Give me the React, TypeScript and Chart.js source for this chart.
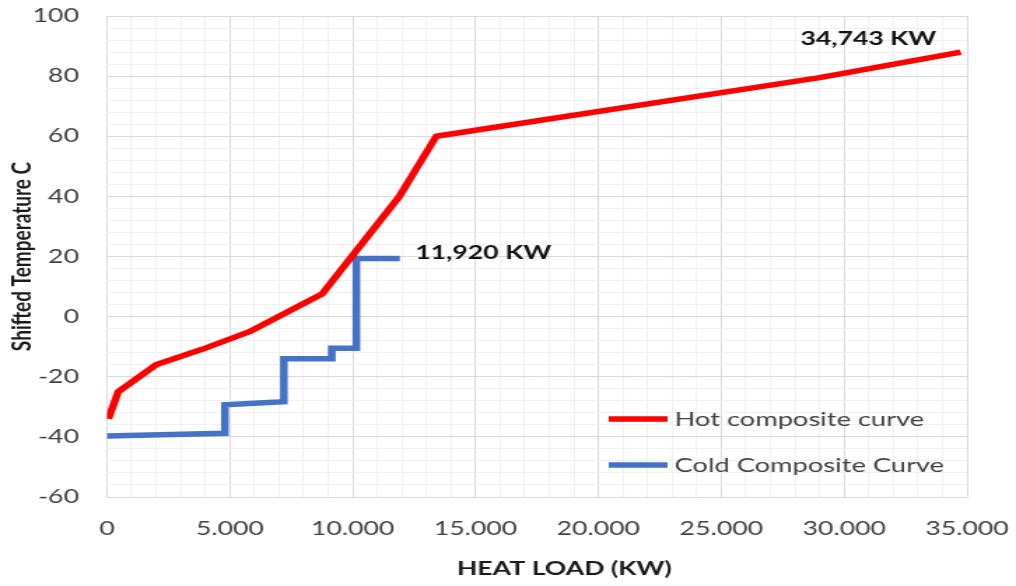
import React, { useEffect, useRef } from 'react';
import { Chart, registerables } from 'chart.js';

Chart.register(...registerables);

// ---------- data ----------
const hotLoad = [60, 460, 2000, 3900, 5800, 8750, 11900, 13400, 29000, 34743];
const hotTemp = [-34, -25, -16, -10.8, -5, 7.5, 40, 60, 79.5, 88];

const coldLoad = [0, 4800, 4800, 7200, 7200, 9150, 9150, 10150, 10150, 11920];
const coldTemp = [-39.7, -38.8, -29.3, -28.3, -14, -14, -10.5, -10.5, 19.3, 19.3];

const seriesNames = ['Hot composite curve', 'Cold Composite Curve'];
const seriesColors = ['#FF0000', '#4472C4'];
const endLabels = ['34,743 KW', '11,920 KW'];

const xMajorTicks = [0, 5000, 10000, 15000, 20000, 25000, 30000, 35000];
const xTickLabels = ['0', '5.000', '10.000', '15.000', '20.000', '25.000', '30.000', '35.000'];
const yMajorTicks = [-60, -40, -20, 0, 20, 40, 60, 80, 100];
const yTickLabels = ['-60', '-40', '-20', '0', '20', '40', '60', '80', '100'];

const xTitle = 'HEAT LOAD (KW)';
const yTitle = 'Shifted Temperature C';

// ---------- layout / style ----------
const OUT_W = 1016;
const OUT_H = 586;
const STRETCH = 1.4; // the reference is horizontally stretched
const CANVAS_W = Math.round(OUT_W / STRETCH);
const FONT = 'Lato';
const MAJOR_GRID = '#d9d9d9';
const MINOR_GRID = '#f0f0f0';
const TICK_COLOR = '#404040';
const TITLE_COLOR = '#1a1a1a';
const CLEAR = 'rgba(0,0,0,0)';

const overlayPlugin = {
  id: 'overlay',
  afterDatasetsDraw(chart: any) {
    const { ctx, chartArea } = chart;
    ctx.save();
    // end-of-curve labels
    ctx.font = `bold 19px ${FONT}`;
    ctx.fillStyle = '#111111';
    ctx.textBaseline = 'middle';
    const labelOffsets = [
      { dx: -66, dy: -13, align: 'center' },
      { dx: 11, dy: -6, align: 'left' },
    ];
    chart.data.datasets.forEach((ds: any, i: number) => {
      const meta = chart.getDatasetMeta(i);
      const last = meta.data[meta.data.length - 1];
      if (!last) return;
      const o = labelOffsets[i];
      ctx.textAlign = o.align;
      ctx.fillText(endLabels[i], last.x + o.dx, last.y + o.dy);
    });
    // legend inside plot area
    const legLeft = chartArea.right - 256;
    const legTop = chartArea.top + 403;
    const rowGap = 46;
    ctx.font = `19.5px ${FONT}`;
    ctx.textAlign = 'left';
    chart.data.datasets.forEach((ds: any, i: number) => {
      const y = legTop + i * rowGap;
      ctx.strokeStyle = ds.borderColor;
      ctx.lineWidth = ds.borderWidth;
      ctx.lineCap = 'butt';
      ctx.beginPath();
      ctx.moveTo(legLeft, y);
      ctx.lineTo(legLeft + 42, y);
      ctx.stroke();
      ctx.fillStyle = TICK_COLOR;
      ctx.fillText(ds.label, legLeft + 47, y + 1);
    });
    // x-axis title (offset right of plot centre as in the reference)
    ctx.font = `bold 19px ${FONT}`;
    ctx.fillStyle = TITLE_COLOR;
    ctx.textAlign = 'center';
    ctx.fillText(xTitle, (chartArea.left + chartArea.right) / 2 + 19.5, chart.height - 17);
    ctx.restore();
  },
};

export default function App() {
  const canvasRef = useRef<HTMLCanvasElement | null>(null);

  useEffect(() => {
    if (!canvasRef.current) return;
    const hotData = hotLoad.map((x, i) => ({ x, y: hotTemp[i] }));
    const coldData = coldLoad.map((x, i) => ({ x, y: coldTemp[i] }));

    const chart = new Chart(canvasRef.current, {
      type: 'line',
      data: {
        datasets: [
          {
            label: seriesNames[0],
            data: hotData,
            borderColor: seriesColors[0],
            backgroundColor: seriesColors[0],
            borderWidth: 5.5,
            pointRadius: 0,
            tension: 0,
            borderJoinStyle: 'round',
            fill: false,
          },
          {
            label: seriesNames[1],
            data: coldData,
            borderColor: seriesColors[1],
            backgroundColor: seriesColors[1],
            borderWidth: 5.5,
            pointRadius: 0,
            tension: 0,
            borderJoinStyle: 'miter',
            fill: false,
          },
        ],
      },
      options: {
        responsive: false,
        animation: false,
        devicePixelRatio: 1,
        layout: { padding: { top: 16, right: 35, bottom: 0, left: 0 } },
        plugins: {
          legend: { display: false },
          tooltip: { enabled: false },
        },
        scales: {
          x: {
            type: 'linear',
            min: 0,
            max: 35000,
            border: { display: false },
            grid: {
              drawTicks: true,
              tickLength: 20,
              tickColor: CLEAR,
              color: (c: any) =>
                xMajorTicks.includes(c.tick?.value) ? MAJOR_GRID : MINOR_GRID,
            },
            ticks: {
              stepSize: 1000,
              autoSkip: false,
              maxRotation: 0,
              padding: 0,
              color: TICK_COLOR,
              font: { family: FONT, size: 19 },
              callback: (v: any) => {
                const idx = xMajorTicks.indexOf(Number(v));
                return idx >= 0 ? xTickLabels[idx] : '';
              },
            },
            title: { display: false, text: xTitle },
            afterFit: (scale: any) => {
              scale.height = 89;
            },
          },
          y: {
            type: 'linear',
            min: -60,
            max: 100,
            border: { display: false },
            grid: {
              drawTicks: true,
              tickLength: 20,
              tickColor: CLEAR,
              color: (c: any) =>
                yMajorTicks.includes(c.tick?.value) ? MAJOR_GRID : MINOR_GRID,
            },
            ticks: {
              stepSize: 4,
              autoSkip: false,
              padding: 0,
              color: TICK_COLOR,
              font: { family: FONT, size: 19 },
              callback: (v: any) => {
                const idx = yMajorTicks.indexOf(Number(v));
                return idx >= 0 ? yTickLabels[idx] : '';
              },
            },
            title: {
              display: true,
              text: yTitle,
              color: TITLE_COLOR,
              font: { family: FONT, size: 19, weight: 'bold' },
              padding: { top: 4.3, bottom: 0 },
            },
            afterFit: (scale: any) => {
              scale.width = 76.4;
            },
          },
        },
      },
      plugins: [overlayPlugin],
    } as any);

    return () => chart.destroy();
  }, []);

  return (
    <div
      style={{
        position: 'fixed',
        left: 0,
        top: 0,
        width: OUT_W,
        height: OUT_H,
        background: '#ffffff',
        overflow: 'hidden',
      }}
    >
      <canvas
        ref={canvasRef}
        width={CANVAS_W}
        height={OUT_H}
        style={{ width: `${OUT_W}px`, height: `${OUT_H}px`, display: 'block' }}
      />
    </div>
  );
}
